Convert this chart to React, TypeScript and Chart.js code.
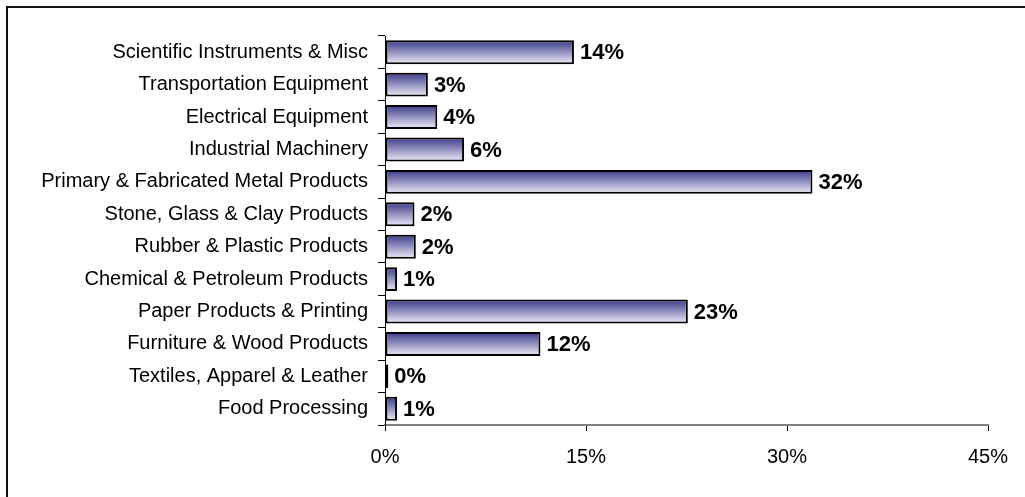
import React, { useEffect, useRef } from "react";
import { Chart, registerables } from "chart.js";

Chart.register(...registerables);

const categories = [
  "Scientific Instruments & Misc",
  "Transportation Equipment",
  "Electrical Equipment",
  "Industrial Machinery",
  "Primary & Fabricated Metal Products",
  "Stone, Glass & Clay Products",
  "Rubber & Plastic Products",
  "Chemical & Petroleum Products",
  "Paper Products & Printing",
  "Furniture & Wood Products",
  "Textiles, Apparel & Leather",
  "Food Processing",
];

const shares = [14.1, 3.2, 3.9, 5.9, 31.9, 2.2, 2.3, 0.9, 22.6, 11.6, 0.25, 0.9];

const axisMin = 0;
const axisMax = 45;
const axisStep = 15;

const FONT = 'Arial, "Liberation Sans", sans-serif';

const gradientPlugin = {
  id: "barGradient",
  beforeDatasetsDraw(chart: any) {
    const ctx = chart.ctx;
    chart.data.datasets.forEach((_: any, di: number) => {
      const meta = chart.getDatasetMeta(di);
      meta.data.forEach((el: any) => {
        const { y, height } = el.getProps(["y", "height"], true);
        const top = y - height / 2;
        const g = ctx.createLinearGradient(0, top, 0, top + height);
        g.addColorStop(0, "#383888");
        g.addColorStop(1, "#eeeef8");
        el.options = Object.assign({}, el.options, { backgroundColor: g });
      });
    });
  },
};

const valueLabelPlugin = {
  id: "valueLabels",
  afterDatasetsDraw(chart: any) {
    const ctx = chart.ctx;
    ctx.save();
    ctx.font = `bold 22px ${FONT}`;
    ctx.fillStyle = "#000";
    ctx.textAlign = "left";
    ctx.textBaseline = "middle";
    chart.data.datasets.forEach((ds: any, di: number) => {
      const meta = chart.getDatasetMeta(di);
      meta.data.forEach((el: any, i: number) => {
        const { x, y } = el.getProps(["x", "y"], true);
        ctx.fillText(Math.round(ds.data[i]) + "%", x + 6, y + 1);
      });
    });
    ctx.restore();
  },
};

export default function App() {
  const canvasRef = useRef<HTMLCanvasElement | null>(null);

  useEffect(() => {
    if (!canvasRef.current) return;
    const chart = new Chart(canvasRef.current, {
      type: "bar",
      data: {
        labels: categories,
        datasets: [
          {
            data: shares,
            backgroundColor: "#8888c0",
            borderColor: "#000",
            borderWidth: 2,
            borderSkipped: false,
            barPercentage: 0.74,
            categoryPercentage: 1,
          },
        ],
      },
      options: {
        indexAxis: "y",
        responsive: false,
        devicePixelRatio: 1,
        animation: false,
        layout: { padding: { top: 36, right: 37, bottom: 0, left: 0 } },
        plugins: {
          legend: { display: false },
          title: { display: false },
          tooltip: { enabled: false },
        },
        scales: {
          x: {
            min: axisMin,
            max: axisMax,
            afterFit: (s: any) => {
              s.height = 72;
            },
            ticks: {
              stepSize: axisStep,
              callback: (v: any) => v + "%",
              font: { family: FONT, size: 20 },
              color: "#000",
              padding: 14,
              maxRotation: 0,
            },
            grid: {
              drawOnChartArea: false,
              drawTicks: true,
              tickLength: 6,
              color: "#000",
            },
            border: { color: "#808080", width: 2 },
          },
          y: {
            afterFit: (s: any) => {
              s.width = 385;
            },
            ticks: {
              font: { family: FONT, size: 20 },
              color: "#000",
              padding: 10,
              autoSkip: false,
            },
            grid: {
              offset: true,
              drawOnChartArea: false,
              drawTicks: true,
              tickLength: 7,
              color: "#000",
            },
            border: { color: "#000", width: 1 },
          },
        },
      },
      plugins: [gradientPlugin, valueLabelPlugin],
    } as any);
    return () => chart.destroy();
  }, []);

  return (
    <div
      style={{
        position: "fixed",
        left: 0,
        top: 0,
        width: 1025,
        height: 497,
        overflow: "hidden",
        background: "#fff",
      }}
    >
      <div
        style={{
          position: "absolute",
          left: 6,
          top: 6,
          width: 1100,
          height: 600,
          border: "2px solid #111",
          boxSizing: "border-box",
        }}
      />
      <canvas
        ref={canvasRef}
        width={1025}
        height={497}
        style={{ position: "absolute", left: 0, top: 0, display: "block" }}
      />
    </div>
  );
}
